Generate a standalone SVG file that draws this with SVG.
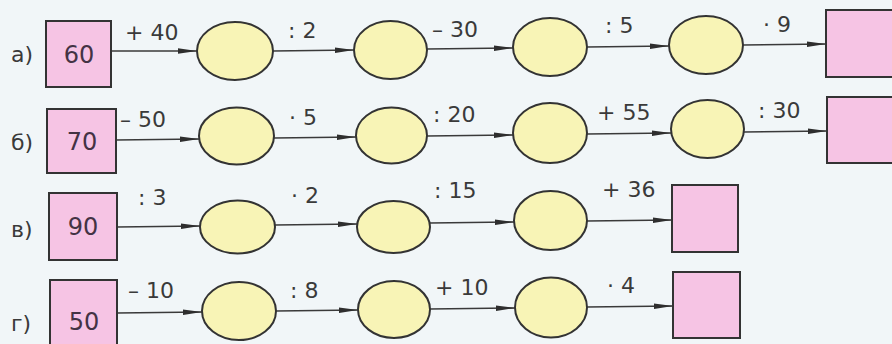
<svg xmlns="http://www.w3.org/2000/svg" width="892" height="344" viewBox="0 0 892 344">
<defs>
<style>
.bg{fill:#f1f6f8}
.box{fill:#f6c4e4;stroke:#333;stroke-width:2}
.oval{fill:#f8f4b6;stroke:#333;stroke-width:2}
.t{font-family:"DejaVu Sans","Liberation Sans",Arial,sans-serif;font-size:22px;fill:#3a3a3a}
.n{font-family:"DejaVu Sans","Liberation Sans",Arial,sans-serif;font-size:24px;fill:#443344;text-anchor:middle}
.c line{stroke:#3a3a3a;stroke-width:1.6;marker-end:url(#ah)}
</style>
<marker id="ah" markerUnits="userSpaceOnUse" markerWidth="20" markerHeight="8" refX="19" refY="4" orient="auto">
<path d="M0,1.2 L19,4 L0,6.8 Z" fill="#2e2e2e"/>
</marker>
</defs>
<rect class="bg" x="0" y="0" width="892" height="344"/>

<g id="labels">
<text class="t" x="11" y="62">а)</text>
<text class="t" x="11" y="150">б)</text>
<text class="t" x="11" y="237">в)</text>
<text class="t" x="11" y="331">г)</text>
</g>

<g class="c" id="connectors">
<line x1="111" y1="51" x2="197" y2="51"/>
<line x1="273" y1="51" x2="354" y2="50"/>
<line x1="427" y1="49" x2="513" y2="48"/>
<line x1="587" y1="47" x2="669" y2="46"/>
<line x1="743" y1="45" x2="826" y2="44"/>

<line x1="116" y1="140" x2="199" y2="139"/>
<line x1="274" y1="138" x2="356" y2="137"/>
<line x1="427" y1="136" x2="513" y2="135"/>
<line x1="587" y1="134" x2="671" y2="133"/>
<line x1="744" y1="132" x2="827" y2="131"/>

<line x1="117" y1="227" x2="200" y2="226"/>
<line x1="275" y1="225" x2="357" y2="224"/>
<line x1="430" y1="223" x2="514" y2="222"/>
<line x1="587" y1="221" x2="672" y2="220"/>

<line x1="117" y1="313" x2="202" y2="312"/>
<line x1="276" y1="311" x2="358" y2="310"/>
<line x1="430" y1="309" x2="515" y2="308"/>
<line x1="587" y1="307" x2="673" y2="306"/>
</g>

<g id="oplabels">
<text class="t" x="125" y="40">+ 40</text>
<text class="t" x="288" y="38">: 2</text>
<text class="t" x="432" y="37">– 30</text>
<text class="t" x="605" y="33">: 5</text>
<text class="t" x="763" y="32">· 9</text>

<text class="t" x="120" y="127">– 50</text>
<text class="t" x="289" y="125">· 5</text>
<text class="t" x="433" y="122">: 20</text>
<text class="t" x="597" y="120">+ 55</text>
<text class="t" x="758" y="118">: 30</text>

<text class="t" x="138" y="205">: 3</text>
<text class="t" x="291" y="203">· 2</text>
<text class="t" x="434" y="198">: 15</text>
<text class="t" x="602" y="197">+ 36</text>

<text class="t" x="128" y="298">– 10</text>
<text class="t" x="290" y="298">: 8</text>
<text class="t" x="435" y="295">+ 10</text>
<text class="t" x="607" y="293">· 4</text>
</g>

<g id="a-start"><rect class="box" x="46" y="21" width="65" height="66"/><text class="n" x="79" y="63">60</text></g>
<g id="a-1"><ellipse class="oval" cx="235" cy="51" rx="38" ry="29"/></g>
<g id="a-2"><ellipse class="oval" cx="390.5" cy="50" rx="36.5" ry="29"/></g>
<g id="a-3"><ellipse class="oval" cx="550" cy="47" rx="37" ry="29"/></g>
<g id="a-4"><ellipse class="oval" cx="706" cy="45" rx="37" ry="29"/></g>
<g id="a-end"><rect class="box" x="826" y="10" width="80" height="67"/></g>

<g id="b-start"><rect class="box" x="47" y="109" width="69" height="64"/><text class="n" x="82" y="150">70</text></g>
<g id="b-1"><ellipse class="oval" cx="236.5" cy="136" rx="37.5" ry="28.5"/></g>
<g id="b-2"><ellipse class="oval" cx="391.5" cy="135.5" rx="35.5" ry="28"/></g>
<g id="b-3"><ellipse class="oval" cx="550" cy="133" rx="37" ry="30"/></g>
<g id="b-4"><ellipse class="oval" cx="707.5" cy="129" rx="36.5" ry="29"/></g>
<g id="b-end"><rect class="box" x="827" y="97" width="80" height="66"/></g>

<g id="c-start"><rect class="box" x="49" y="193" width="68" height="67"/><text class="n" x="83" y="235">90</text></g>
<g id="c-1"><ellipse class="oval" cx="237.5" cy="227" rx="37.5" ry="26.5"/></g>
<g id="c-2"><ellipse class="oval" cx="393.5" cy="227" rx="36.5" ry="26"/></g>
<g id="c-3"><ellipse class="oval" cx="550.5" cy="220.5" rx="36.5" ry="29.5"/></g>
<g id="c-end"><rect class="box" x="672" y="185" width="66" height="67"/></g>

<g id="d-start"><rect class="box" x="50" y="280" width="67" height="66"/><text class="n" x="84" y="330">50</text></g>
<g id="d-1"><ellipse class="oval" cx="239" cy="311" rx="37" ry="29"/></g>
<g id="d-2"><ellipse class="oval" cx="394" cy="309.5" rx="36" ry="28.5"/></g>
<g id="d-3"><ellipse class="oval" cx="551" cy="307.5" rx="36" ry="30"/></g>
<g id="d-end"><rect class="box" x="673" y="272" width="67" height="66"/></g>
</svg>
